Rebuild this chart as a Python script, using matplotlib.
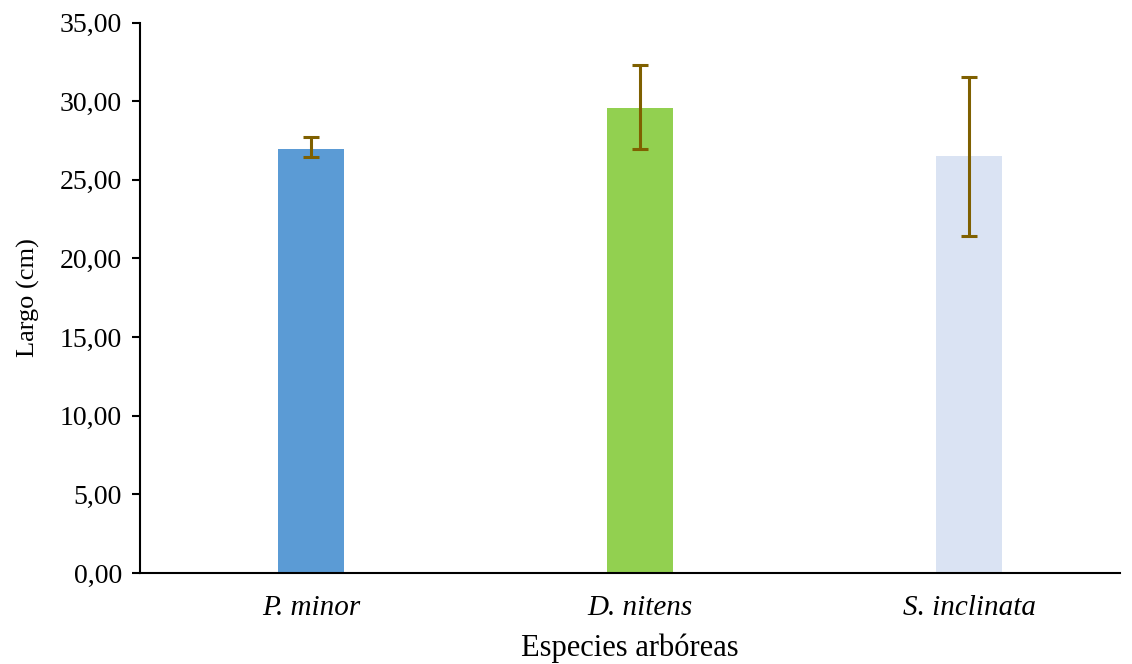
import matplotlib
matplotlib.use('Agg')
import matplotlib.pyplot as plt
from matplotlib.ticker import FuncFormatter

# data
especies = ['P. minor', 'D. nitens', 'S. inclinata']
largo = [26.97, 29.60, 26.53]
err_sup = [0.77, 2.70, 5.04]
err_inf = [0.51, 2.65, 5.07]
colores = ['#5B9BD5', '#92D050', '#DAE3F3']

plt.rcParams['font.family'] = ['Liberation Serif', 'DejaVu Serif']

fig = plt.figure(figsize=(11.32, 6.64), dpi=100)
ax = fig.add_axes([0.1237, 0.137, 0.866, 0.829])

x = range(len(especies))
ax.bar(x, largo, width=0.2, color=colores, zorder=2)
ax.errorbar(x, largo, yerr=[err_inf, err_sup], fmt='none', ecolor='#7F6000',
            elinewidth=2.2, capsize=5.5, capthick=2.2, zorder=3)

ax.set_ylim(0, 35)
ax.set_xlim(-0.52, 2.46)
ax.set_yticks(range(0, 36, 5))
ax.yaxis.set_major_formatter(FuncFormatter(lambda v, p: f'{v:.2f}'.replace('.', ',')))
ax.set_xticks(list(x))
ax.set_xticklabels(especies, fontstyle='italic')
ax.tick_params(axis='x', length=0, labelsize=21, pad=16)
ax.tick_params(axis='y', length=6, width=1.5, direction='out', labelsize=20, pad=7)

for s in ['top', 'right']:
    ax.spines[s].set_visible(False)
ax.spines['left'].set_linewidth(1.5)
ax.spines['bottom'].set_linewidth(1.5)

ax.set_xlabel('Especies arbóreas', fontsize=22, labelpad=9)
ax.set_ylabel('Largo (cm)', fontsize=19, labelpad=14)

fig.savefig('out.png', dpi=100, facecolor='white')
